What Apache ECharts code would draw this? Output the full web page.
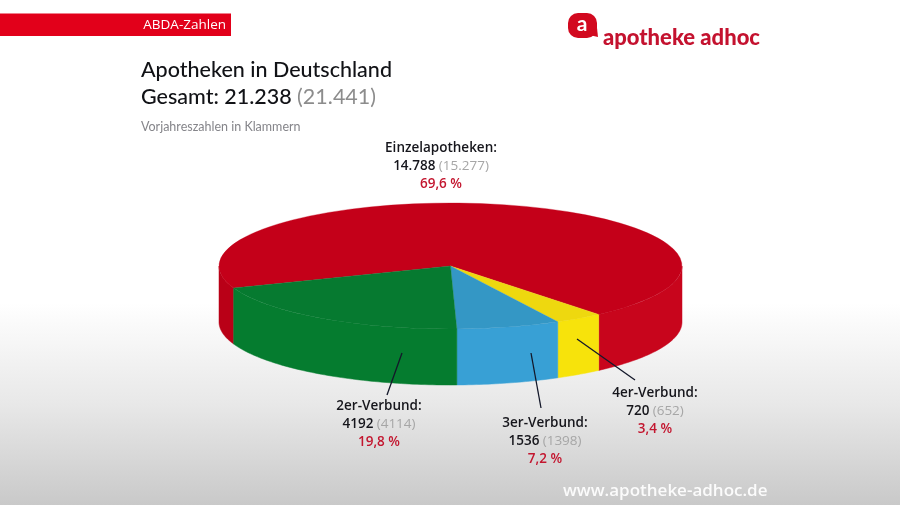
<!DOCTYPE html>
<html><head><meta charset="utf-8">
<style>html,body{margin:0;padding:0;background:#fff}#c{width:900px;height:505px}</style>
<script src="https://cdn.jsdelivr.net/npm/echarts@6/dist/echarts.min.js"></script>
</head><body><div id="c"></div>
<script>
// Data
const categories = ['Einzelapotheken:', '4er-Verbund:', '3er-Verbund:', '2er-Verbund:'];
const currentValues = [14788, 720, 1536, 4192];
const currentLabels = ['14.788', '720', '1536', '4192'];
const previousLabels = ['15.277', '652', '1398', '4114'];
const shareLabels = ['69,6 %', '3,4 %', '7,2 %', '19,8 %'];

// Styling and layout
const topColors = ['#c40019', '#eed80f', '#3497c5', '#067a30'];
const wallColors = ['#c8051c', '#f7e30b', '#38a0d5', '#057c2f'];
const labelPos = [[441, 139], [655, 384], [545, 414], [379, 397]];
const leaders = [null, [577, 339, 635, 380], [531, 353, 541, 408], [402, 353, 387, 395]];
const CX = 450.5, CY = 266, RX = 231.5, RY = 63, DEPTH = 56, START_DEG = 159.5;
const total = currentValues.reduce((a, b) => a + b, 0);

function wall(a0, a1) {
  const pts = [];
  const n = Math.max(2, Math.ceil(Math.abs(a1 - a0) / (Math.PI / 180)));
  for (let i = 0; i <= n; i++) {
    const t = a0 + (a1 - a0) * i / n;
    pts.push([CX + RX * Math.cos(t), CY + RY * Math.sin(t)]);
  }
  for (let i = n; i >= 0; i--) {
    const t = a0 + (a1 - a0) * i / n;
    pts.push([CX + RX * Math.cos(t), CY + DEPTH + RY * Math.sin(t)]);
  }
  return pts;
}
function renderSlice(params, api) {
  const i = params.dataIndex;
  let before = 0;
  for (let k = 0; k < i; k++) before += currentValues[k];
  const s = START_DEG * Math.PI / 180 + before / total * 2 * Math.PI;
  const e = s + api.value(0) / total * 2 * Math.PI;
  const kids = [];
  const addWall = (a, b, color) => {
    if (b <= a) return;
    kids.push({type: 'polygon', z2: 1, shape: {points: wall(a, b)},
      style: {fill: color, stroke: color, lineWidth: 0.5}});
  };
  const T = 2 * Math.PI;
  addWall(Math.max(s, 0), Math.min(e, Math.PI), i === 0 ? '#b90017' : wallColors[i]);
  addWall(Math.max(s, T), Math.min(e, T + Math.PI), wallColors[i]);
  kids.push({type: 'sector', z2: 2, x: CX, y: CY, scaleY: RY / RX,
    shape: {cx: 0, cy: 0, r0: 0, r: RX, startAngle: s, endAngle: e, clockwise: true},
    style: {fill: topColors[i], stroke: topColors[i], lineWidth: 0.5}});
  if (leaders[i]) {
    const l = leaders[i];
    kids.push({type: 'line', z2: 5, shape: {x1: l[0], y1: l[1], x2: l[2], y2: l[3]},
      style: {stroke: '#14182a', lineWidth: 1.3}});
  }
  return {type: 'group', children: kids};
}

const FONT = '"Open Sans"';
const labelGraphics = categories.map((c, i) => ({
  type: 'text', x: labelPos[i][0], y: labelPos[i][1], z: 20,
  style: {
    text: `{n|${c}}\n{v|${currentLabels[i]}} {p|(${previousLabels[i]})}\n{s|${shareLabels[i]}}`,
    align: 'center', verticalAlign: 'top',
    rich: {
      n: {font: `600 13.5px ${FONT}`, fill: '#16161c', lineHeight: 18, align: 'center'},
      v: {font: `600 13.5px ${FONT}`, fill: '#16161c', lineHeight: 18},
      p: {font: `400 13.5px ${FONT}`, fill: '#a6a6a6', lineHeight: 18},
      s: {font: `600 13.5px ${FONT}`, fill: '#c3162f', lineHeight: 18, align: 'center'}
    }
  }
}));

const chart = echarts.init(document.getElementById('c'), null, {renderer: 'canvas', width: 900, height: 505});
chart.setOption({
  animation: false,
  backgroundColor: new echarts.graphic.LinearGradient(0, 0, 0, 1, [
    {offset: 0, color: '#ffffff'}, {offset: 0.6, color: '#ffffff'},
    {offset: 0.8, color: '#e8e8e8'}, {offset: 1, color: '#c9c9c9'}
  ]),
  graphic: [
    {type: 'rect', z: 20, shape: {x: 0, y: 13.5, width: 231, height: 22.5}, style: {fill: '#e2001a'}},
    {type: 'text', z: 21, x: 226, y: 25, style: {text: 'ABDA-Zahlen', fill: '#fff', font: `400 13.5px ${FONT}`, align: 'right', verticalAlign: 'middle'}},
    {type: 'text', z: 21, x: 141, y: 70, style: {text: 'Apotheken in Deutschland', fill: '#111216', font: '500 21.5px Lato', align: 'left', verticalAlign: 'middle'}},
    {type: 'text', z: 21, x: 141, y: 97, style: {
      text: '{a|Gesamt: 21.238 }{b|(21.441)}', align: 'left', verticalAlign: 'middle',
      rich: {a: {font: '500 21.5px Lato', fill: '#111216'}, b: {font: '400 21.5px Lato', fill: '#8c8c8c'}}}},
    {type: 'text', z: 21, x: 141, y: 127, style: {text: 'Vorjahreszahlen in Klammern', fill: '#85858a', font: '400 12.5px Lato', align: 'left', verticalAlign: 'middle'}},
    // logo
    {type: 'rect', z: 21, shape: {x: 568, y: 13, width: 29, height: 25, r: 10}, style: {fill: '#d2091f'}},
    {type: 'polygon', z: 21, shape: {points: [[585, 34], [597, 28], [598, 37]]}, style: {fill: '#d2091f'}},
    {type: 'text', z: 22, x: 582, y: 24.5, style: {text: 'a', fill: '#fff', font: '700 21px Lato', align: 'center', verticalAlign: 'middle'}},
    {type: 'text', z: 21, x: 603, y: 38, style: {text: 'apotheke adhoc', fill: '#c4122f', font: '900 22px Lato', align: 'left', verticalAlign: 'middle'}},
    {type: 'text', z: 21, x: 563, y: 491, style: {text: 'www.apotheke-adhoc.de', fill: 'rgba(255,255,255,0.92)', font: `600 17px ${FONT}`, align: 'left', verticalAlign: 'middle'}},
    ...labelGraphics
  ],
  series: [{
    type: 'custom', coordinateSystem: 'none', silent: true, z: 5,
    renderItem: renderSlice,
    data: currentValues.map(v => [v])
  }]
});
</script></body></html>
